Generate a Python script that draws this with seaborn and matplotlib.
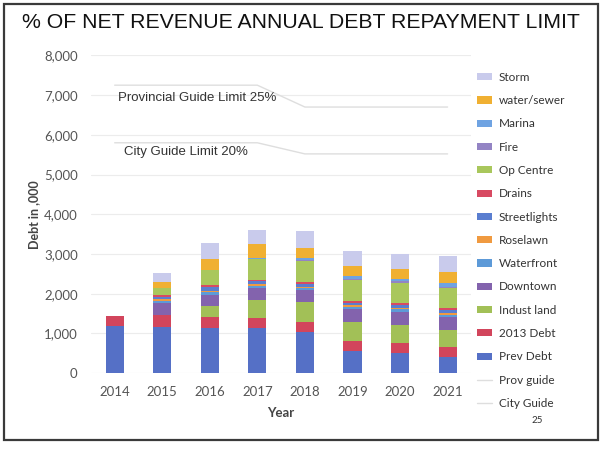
import numpy as np
import pandas as pd
import matplotlib
matplotlib.use("Agg")
import matplotlib.pyplot as plt
from matplotlib.patches import Patch, Rectangle
from matplotlib.lines import Line2D
import seaborn as sns

# Annual debt repayment by component, in thousands of dollars
years = ["2014", "2015", "2016", "2017", "2018", "2019", "2020", "2021"]
prev_debt    = [1180, 1160, 1150, 1150, 1040, 560, 500, 400]
debt_2013    = [260, 300, 270, 250, 250, 250, 260, 250]
indust_land  = [0, 0, 270, 450, 500, 480, 445, 435]
downtown     = [0, 300, 290, 300, 300, 330, 340, 330]
waterfront   = [0, 60, 60, 50, 50, 50, 60, 60]
roselawn     = [0, 40, 40, 40, 40, 40, 40, 40]
streetlights = [0, 60, 90, 73, 64, 60, 66, 65]
drains       = [0, 40, 48, 40, 50, 50, 55, 50]
op_centre    = [0, 176, 377, 514, 528, 520, 503, 503]
fire         = [0, 0, 0, 0, 30, 40, 40, 40]
marina       = [0, 0, 0, 40, 55, 60, 70, 100]
water_sewer  = [0, 150, 270, 335, 252, 252, 251, 277]
storm        = [0, 227, 402, 368, 418, 385, 377, 394]

# Debt limits (25% and 20% of net revenue)
prov_guide = [7250, 7250, 7250, 7250, 6700, 6700, 6700, 6700]
city_guide = [5800, 5800, 5800, 5800, 5520, 5520, 5520, 5520]

series_names = ["Prev Debt", "2013 Debt", "Indust land", "Downtown", "Waterfront",
                "Roselawn", "Streetlights", "Drains", "Op Centre", "Fire",
                "Marina", "water/sewer", "Storm"]
series_values = [prev_debt, debt_2013, indust_land, downtown, waterfront,
                 roselawn, streetlights, drains, op_centre, fire,
                 marina, water_sewer, storm]
series_colors = ["#5570c6", "#d2455c", "#a2c057", "#8363ad", "#5d9ad8",
                 "#f09a40", "#5a7ed0", "#d84a62", "#a9c75c", "#9384c4",
                 "#6fa3e2", "#f0b032", "#c9cbec"]
guide_color = "#dedede"

sns.set_theme(style="white")
plt.rcParams["font.family"] = ["Lato", "DejaVu Sans"]

fig = plt.figure(figsize=(6.02, 4.54), dpi=100)
fig.patch.set_facecolor("white")
ax = fig.add_axes([0.151, 0.178, 0.632, 0.70])
ax.set_facecolor("white")

bottom = np.zeros(len(years))
for name, vals, col in zip(series_names, series_values, series_colors):
    df = pd.DataFrame({"Year": years, "Debt": vals})
    sns.barplot(data=df, x="Year", y="Debt", color=col, bottom=bottom,
                width=0.38, errorbar=None, ax=ax, saturation=1,
                edgecolor="none", linewidth=0)
    bottom = bottom + np.array(vals)

xs = np.arange(len(years))
sns.lineplot(x=xs, y=prov_guide, color=guide_color, linewidth=1.0, ax=ax)
sns.lineplot(x=xs, y=city_guide, color=guide_color, linewidth=1.0, ax=ax)

ax.text(0.06, 6920, "Provincial Guide Limit 25%", fontsize=9.5,
        family=["Liberation Sans"], color="#333333", va="center", ha="left")
ax.text(0.2, 5560, "City Guide Limit 20%", fontsize=9.5,
        family=["Liberation Sans"], color="#333333", va="center", ha="left")

ax.set_ylim(0, 8000)
ax.set_xlim(-0.5, 7.5)
ax.set_yticks(range(0, 8001, 1000))
ax.set_yticklabels([f"{v:,}" for v in range(0, 8001, 1000)])
ax.yaxis.grid(True, color="#ececec", linewidth=0.8)
ax.set_axisbelow(True)
for s in ax.spines.values():
    s.set_visible(False)
ax.tick_params(axis="both", length=0, labelsize=9.5, colors="#555555")
ax.tick_params(axis="y", pad=9.5)
ax.tick_params(axis="x", pad=9)
ax.set_xlabel("Year", fontsize=9.5, color="#444444", fontweight="bold", labelpad=7)
ax.set_ylabel("Debt in ,000", fontsize=9, color="#444444", fontweight="bold", labelpad=3)

# Legend: components top-down, then the two guide lines
handles = [Patch(facecolor=c, edgecolor="none") for c in series_colors[::-1]]
labels = series_names[::-1]
handles += [Line2D([0], [0], color=guide_color, lw=1.0),
            Line2D([0], [0], color=guide_color, lw=1.0)]
labels += ["Prov guide", "City Guide"]
leg = fig.legend(handles, labels, loc="upper left", bbox_to_anchor=(0.785, 0.852),
                 frameon=False, fontsize=8.5, handlelength=1.25, handleheight=0.55,
                 handletextpad=0.55, labelspacing=1.04, borderaxespad=0)
for t in leg.get_texts():
    t.set_color("#333333")

fig.text(0.5, 0.951, "% OF NET REVENUE ANNUAL DEBT REPAYMENT LIMIT",
         ha="center", va="center", fontsize=15.3, family=["Liberation Sans"],
         color="#111111")
fig.text(0.893, 0.073, "25", fontsize=7, color="#333333", ha="center", va="center")

# Slide frame
fig.add_artist(Rectangle((0.007, 0.03), 0.986, 0.962, transform=fig.transFigure,
                         fill=False, edgecolor="#3a3a3a", linewidth=1.6))

fig.savefig("out.png", dpi=100, facecolor="white")
